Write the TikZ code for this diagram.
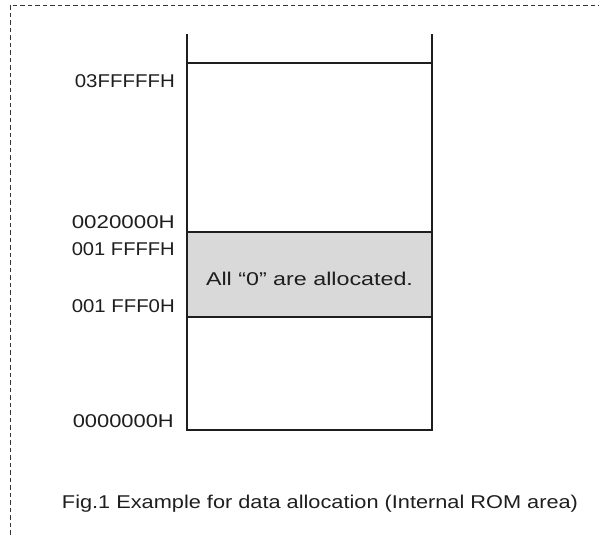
\documentclass[tikz,border=0pt]{standalone}
\usepackage{fontspec}
\setmainfont{Liberation Sans}
\definecolor{zonegray}{RGB}{217,217,217}
\definecolor{inkc}{RGB}{30,30,30}
\tikzset{
  frameline/.style={draw=inkc!90, line width=1pt, dash pattern=on 4.5pt off 3pt},
  memline/.style={draw=inkc, line width=1.3pt},
  addrlabel/.style={anchor=base east, inner sep=0pt, font=\fontsize{18.5}{20}\selectfont, text=inkc},
  plainlabel/.style={anchor=base, inner sep=0pt, font=\fontsize{18.5}{20}\selectfont, text=inkc}
}
\begin{document}
\begin{tikzpicture}[x=1pt,y=-1pt]
\useasboundingbox (0,0) rectangle (599,536);
\begin{scope}
\clip (0,0) rectangle (599,536);
\draw[frameline] (10,5) rectangle (640,560);
\end{scope}
% memory column
\fill[zonegray] (187,232) rectangle (432,317);
\coordinate (ltop) at (187,34);
\coordinate (rtop) at (432,34);
\coordinate (lbot) at (187,430);
\coordinate (rbot) at (432,430);
\draw[memline] (ltop) -- (lbot) -- (rbot) -- (rtop);
\draw[memline] (187,63) -- (432,63);
\draw[memline] (187,232) -- (432,232);
\draw[memline] (187,317) -- (432,317);
% labels
\node[addrlabel] (a1) at (175,87) {\resizebox{100pt}{\height}{03FFFFFH}};
\node[addrlabel] (a2) at (175,228) {\resizebox{103pt}{\height}{0020000H}};
\node[addrlabel] (a3) at (175,255) {\resizebox{103pt}{\height}{001 FFFFH}};
\node[addrlabel] (a4) at (175,312) {\resizebox{103pt}{\height}{001 FFF0H}};
\node[addrlabel] (a5) at (174,427) {\resizebox{101pt}{\height}{0000000H}};
\node[plainlabel] (zone) at (309.5,285) {\resizebox{207pt}{\height}{All “0” are allocated.}};
\node[plainlabel] (cap) at (320,508) {\resizebox{516pt}{\height}{Fig.1 Example for data allocation (Internal ROM area)}};
\end{tikzpicture}
\end{document}
